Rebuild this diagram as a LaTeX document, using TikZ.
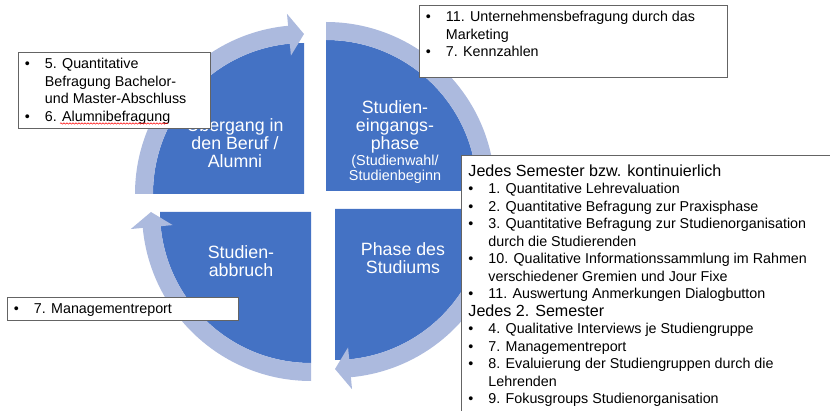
\documentclass[tikz,border=0pt]{standalone}
\usepackage{fontspec}
\setmainfont{Liberation Sans}
\usetikzlibrary{decorations.pathmorphing}

\definecolor{quadblue}{RGB}{68,114,196}
\definecolor{bandblue}{RGB}{172,186,222}
\definecolor{boxgray}{RGB}{100,100,100}

\newcommand{\itembul}{\makebox[20pt][l]{\textbullet}}
\newcommand{\itemgap}{\hspace*{20pt}}

\begin{document}
\begin{tikzpicture}[x=1pt, y=1pt, line width=0.9pt,
    quad/.style={fill=quadblue},
    band/.style={fill=bandblue},
    quadtext/.style={text=white, align=center, inner sep=0pt, anchor=base,
        font=\fontsize{17.8}{18}\selectfont},
    infobox/.style={draw=boxgray, fill=white},
    listtext/.style={anchor=base west, align=left, inner sep=0pt,
        font=\fontsize{14.3}{17.5}\selectfont}]
        \useasboundingbox (0,0) rectangle (830,410);
        \clip (0,0) rectangle (830,410);

        % quarters
        \fill[quad] (304,216) -- ++(-151,0) arc[start angle=180, end angle=90, radius=151] -- cycle;
        \fill[quad] (326,219) -- ++(0,151) arc[start angle=90, end angle=0, radius=151] -- cycle;
        \fill[quad] (335,201) -- ++(151,0) arc[start angle=0, end angle=-90, radius=151] -- cycle;
        \fill[quad] (311,198) -- ++(0,-151) arc[start angle=-90, end angle=-180, radius=151] -- cycle;

        % arrows round the quarters
        \begin{scope}[shift={(304,216)}]
        \fill[band] (180:151) -- (180:169) arc[start angle=180, end angle=95.4, radius=169]
            -- (95.4:181) -- (90:160) -- (95.4:139) -- (95.4:151)
            arc[start angle=95.4, end angle=180, radius=151] -- cycle;
        \end{scope}
        \begin{scope}[shift={(326,219)}]
        \fill[band] (90:151) -- (90:169) arc[start angle=90, end angle=5.4, radius=169]
            -- (5.4:181) -- (0:160) -- (5.4:139) -- (5.4:151)
            arc[start angle=5.4, end angle=90, radius=151] -- cycle;
        \end{scope}
        \begin{scope}[shift={(335,201)}]
        \fill[band] (0:151) -- (0:169) arc[start angle=0, end angle=-84.6, radius=169]
            -- (-84.6:181) -- (-90:160) -- (-84.6:139) -- (-84.6:151)
            arc[start angle=-84.6, end angle=0, radius=151] -- cycle;
        \end{scope}
        \begin{scope}[shift={(311,198)}]
        \fill[band] (-90:151) -- (-90:169) arc[start angle=-90, end angle=-174.6, radius=169]
            -- (-174.6:181) -- (-180:160) -- (-174.6:139) -- (-174.6:151)
            arc[start angle=-174.6, end angle=-90, radius=151] -- cycle;
        \end{scope}

        % phase names (anchored at the last line)
        \node[quadtext] (alumni) at (235,242.5) {Übergang in\\den Beruf /\\Alumni};
        \node[quadtext] (entry) at (395,260.5) {Studien-\\eingangs-\\phase};
        \node[quadtext, font=\fontsize{14.4}{15}\selectfont] (entrysub) at (395,229)
            {(Studienwahl/\\Studienbeginn};
        \node[quadtext] (dropout) at (241,133.5) {Studien-\\abbruch};
        \node[quadtext] (study) at (403,136.5) {Phase des\\Studiums};

        % boxes
        \draw[infobox] (18,358) rectangle (210,282);
        \node[listtext] (alumnilist) at (24.5,288.5) {\itembul 5. Quantitative\\
            \itemgap Befragung Bachelor-\\
            \itemgap und Master-Abschluss\\
            \itembul 6. Alumnibefragung};
        \draw[red, line width=0.5pt, decorate, decoration={snake, amplitude=0.7pt, segment length=3pt}]
            (60,286.5) -- (168,286.5);

        \draw[infobox] (419,405) rectangle (727,333);
        \node[listtext] (entrylist) at (425.5,353) {\itembul 11. Unternehmensbefragung durch das\\
            \itemgap Marketing\\
            \itembul 7. Kennzahlen};

        \draw[infobox] (7,113) rectangle (238,90);
        \node[listtext] (dropoutlist) at (13.5,97) {\itembul 7. Managementreport};

        \draw[infobox] (461,255) rectangle (850,-20);
        \node[listtext] (studylist) at (468,6.5) {{\fontsize{16.1}{17.5}\selectfont Jedes Semester bzw. kontinuierlich}\\
            \itembul 1. Quantitative Lehrevaluation\\
            \itembul 2. Quantitative Befragung zur Praxisphase\\
            \itembul 3. Quantitative Befragung zur Studienorganisation\\
            \itemgap durch die Studierenden\\
            \itembul 10. Qualitative Informationssammlung im Rahmen\\
            \itemgap verschiedener Gremien und Jour Fixe\\
            \itembul 11. Auswertung Anmerkungen Dialogbutton\\
            {\fontsize{16.1}{17.5}\selectfont Jedes 2. Semester}\\
            \itembul 4. Qualitative Interviews je Studiengruppe\\
            \itembul 7. Managementreport\\
            \itembul 8. Evaluierung der Studiengruppen durch die\\
            \itemgap Lehrenden\\
            \itembul 9. Fokusgroups Studienorganisation};
\end{tikzpicture}
\end{document}
